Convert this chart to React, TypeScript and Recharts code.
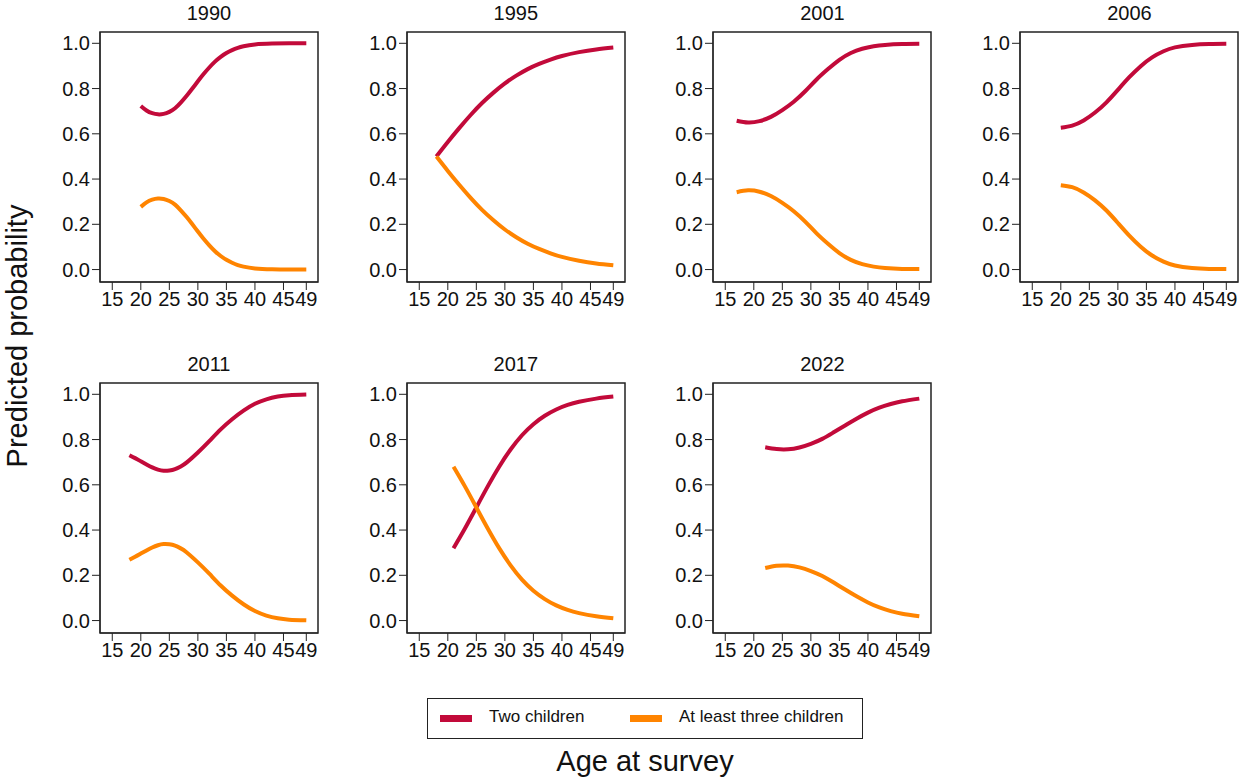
import { LineChart, Line, XAxis, YAxis, ReferenceArea } from "recharts";

const RED = "#C20A3A";
const ORANGE = "#FF8400";
const FONT = "'Liberation Sans', Arial, sans-serif";

const xTicks = [15, 20, 25, 30, 35, 40, 45, 49];
const yTicks = [0, 0.2, 0.4, 0.6, 0.8, 1.0];
const xDomain: [number, number] = [12.85, 51.05];
const yDomain: [number, number] = [-0.055, 1.05];

const years = ["1990", "1995", "2001", "2006", "2011", "2017", "2022"];

const ages1990 = [20, 21, 22, 23, 24, 25, 26, 27, 28, 29, 30, 31, 32, 33, 34, 35, 36, 37, 38, 40, 43, 46, 49];
const two1990 = [0.723, 0.703, 0.691, 0.686, 0.688, 0.697, 0.713, 0.738, 0.767, 0.799, 0.832, 0.864, 0.893, 0.919, 0.94, 0.957, 0.97, 0.98, 0.987, 0.995, 0.999, 1.0, 1.0];
const three1990 = [0.277, 0.297, 0.309, 0.314, 0.312, 0.303, 0.287, 0.262, 0.233, 0.201, 0.168, 0.136, 0.107, 0.081, 0.06, 0.043, 0.03, 0.02, 0.013, 0.005, 0.001, 0, 0];

const ages1995 = [18, 20, 22, 24, 26, 28, 30, 32, 34, 36, 38, 40, 43, 46, 49];
const two1995 = [0.5, 0.564, 0.625, 0.683, 0.736, 0.782, 0.823, 0.857, 0.886, 0.909, 0.928, 0.944, 0.961, 0.973, 0.981];
const three1995 = [0.5, 0.436, 0.375, 0.317, 0.264, 0.218, 0.177, 0.143, 0.114, 0.091, 0.072, 0.056, 0.039, 0.027, 0.019];

const ages2001 = [17, 19, 21, 23, 25, 27, 29, 31, 33, 35, 37, 39, 41, 43, 46, 49];
const two2001 = [0.658, 0.65, 0.656, 0.675, 0.705, 0.742, 0.788, 0.84, 0.886, 0.927, 0.957, 0.976, 0.987, 0.993, 0.997, 0.998];
const three2001 = [0.342, 0.35, 0.344, 0.325, 0.295, 0.258, 0.212, 0.16, 0.114, 0.073, 0.043, 0.024, 0.013, 0.007, 0.003, 0.002];

const ages2006 = [20, 22, 24, 26, 28, 30, 32, 34, 36, 38, 40, 43, 46, 49];
const two2006 = [0.627, 0.636, 0.659, 0.694, 0.739, 0.794, 0.85, 0.899, 0.938, 0.965, 0.982, 0.993, 0.997, 0.998];
const three2006 = [0.373, 0.364, 0.341, 0.306, 0.261, 0.206, 0.15, 0.101, 0.062, 0.035, 0.018, 0.007, 0.003, 0.002];

const ages2011 = [18, 19, 20, 21, 22, 23, 24, 25, 26, 27, 28, 30, 32, 34, 36, 38, 40, 42, 44, 46, 49];
const two2011 = [0.731, 0.718, 0.704, 0.69, 0.677, 0.667, 0.662, 0.663, 0.669, 0.681, 0.698, 0.743, 0.793, 0.845, 0.89, 0.928, 0.958, 0.978, 0.99, 0.996, 0.999];
const three2011 = [0.269, 0.282, 0.296, 0.31, 0.323, 0.333, 0.338, 0.337, 0.331, 0.319, 0.302, 0.257, 0.207, 0.155, 0.11, 0.072, 0.042, 0.022, 0.01, 0.004, 0.001];

const ages2017 = [21, 23, 25, 27, 29, 31, 33, 35, 37, 39, 41, 43, 46, 49];
const two2017 = [0.32, 0.407, 0.5, 0.593, 0.68, 0.756, 0.819, 0.868, 0.905, 0.933, 0.953, 0.967, 0.981, 0.99];
const three2017 = [0.68, 0.593, 0.5, 0.407, 0.32, 0.244, 0.181, 0.132, 0.095, 0.067, 0.047, 0.033, 0.019, 0.01];

const ages2022 = [22, 24, 26, 28, 30, 32, 34, 36, 38, 40, 42, 44, 46, 49];
const two2022 = [0.766, 0.758, 0.757, 0.765, 0.781, 0.803, 0.832, 0.862, 0.892, 0.919, 0.941, 0.957, 0.969, 0.981];
const three2022 = [0.232, 0.242, 0.243, 0.235, 0.219, 0.197, 0.168, 0.137, 0.107, 0.08, 0.058, 0.042, 0.03, 0.019];

const panelAges = [ages1990, ages1995, ages2001, ages2006, ages2011, ages2017, ages2022];
const panelTwo = [two1990, two1995, two2001, two2006, two2011, two2017, two2022];
const panelThree = [three1990, three1995, three2001, three2006, three2011, three2017, three2022];

// frame geometry (plot area) for the grid
const FRAME_W = 218;
const FRAME_H = 250;
const COL_X = [100, 406.8, 713.4, 1020.4];
const ROW_Y = [32, 383];
const Y_AXIS_W = 60;
const X_AXIS_H = 34;
const PAD = 4;

function Panel({ idx }: { idx: number }) {
  const col = idx % 4;
  const row = Math.floor(idx / 4);
  const left = COL_X[col];
  const top = ROW_Y[row];
  const ages = panelAges[idx];
  const data = ages.map((age, i) => ({ age, two: panelTwo[idx][i], three: panelThree[idx][i] }));

  return (
    <>
      <div
        style={{
          position: "absolute",
          left,
          top: top - 30,
          width: FRAME_W,
          textAlign: "center",
          fontSize: 20,
          color: "#111",
        }}
      >
        {years[idx]}
      </div>
      <div style={{ position: "absolute", left: left - Y_AXIS_W, top: top - PAD }}>
        <LineChart
          width={Y_AXIS_W + FRAME_W + PAD}
          height={PAD + FRAME_H + X_AXIS_H}
          data={data}
          margin={{ top: PAD, right: PAD, bottom: 0, left: 0 }}
        >
          <XAxis
            dataKey="age"
            type="number"
            domain={xDomain}
            ticks={xTicks}
            interval={0}
            allowDataOverflow
            height={X_AXIS_H}
            tickSize={8}
            tickMargin={2}
            stroke="#222"
            tick={{ fill: "#111", fontSize: 20 }}
          />
          <YAxis
            type="number"
            domain={yDomain}
            ticks={yTicks}
            interval={0}
            allowDataOverflow
            width={Y_AXIS_W}
            tickSize={8}
            tickMargin={2}
            stroke="#222"
            tick={{ fill: "#111", fontSize: 20 }}
            tickFormatter={(v: number) => v.toFixed(1)}
          />
          <ReferenceArea
            x1={xDomain[0]}
            x2={xDomain[1]}
            y1={yDomain[0]}
            y2={yDomain[1]}
            fill="none"
            stroke="#222"
            strokeWidth={1.5}
          />
          <Line type="natural" dataKey="two" stroke={RED} strokeWidth={4} dot={false} isAnimationActive={false} />
          <Line type="natural" dataKey="three" stroke={ORANGE} strokeWidth={4} dot={false} isAnimationActive={false} />
        </LineChart>
      </div>
    </>
  );
}

export default function App() {
  return (
    <div
      style={{
        position: "absolute",
        left: 0,
        top: 0,
        width: 1241,
        height: 779,
        background: "#fff",
        fontFamily: FONT,
        overflow: "hidden",
      }}
    >
      {years.map((y, i) => (
        <Panel key={y} idx={i} />
      ))}

      <svg width={1241} height={779} style={{ position: "absolute", left: 0, top: 0, pointerEvents: "none" }}>
        <text
          x={0}
          y={0}
          transform="translate(27,336) rotate(-90)"
          textAnchor="middle"
          fontSize={29}
          fill="#111"
          fontFamily={FONT}
        >
          Predicted probability
        </text>
        <text x={645} y={771} textAnchor="middle" fontSize={29} fill="#111" fontFamily={FONT}>
          Age at survey
        </text>
      </svg>

      <div
        style={{
          position: "absolute",
          left: 427,
          top: 698,
          width: 436,
          height: 41,
          boxSizing: "border-box",
          border: "1.5px solid #222",
          fontSize: 17,
          color: "#111",
        }}
      >
        <div style={{ position: "absolute", left: 12, top: 16, width: 32, height: 7, background: RED }} />
        <div style={{ position: "absolute", left: 61, top: 8, lineHeight: "20px" }}>Two children</div>
        <div style={{ position: "absolute", left: 202, top: 16, width: 32, height: 7, background: ORANGE }} />
        <div style={{ position: "absolute", left: 251, top: 8, lineHeight: "20px" }}>At least three children</div>
      </div>
    </div>
  );
}
